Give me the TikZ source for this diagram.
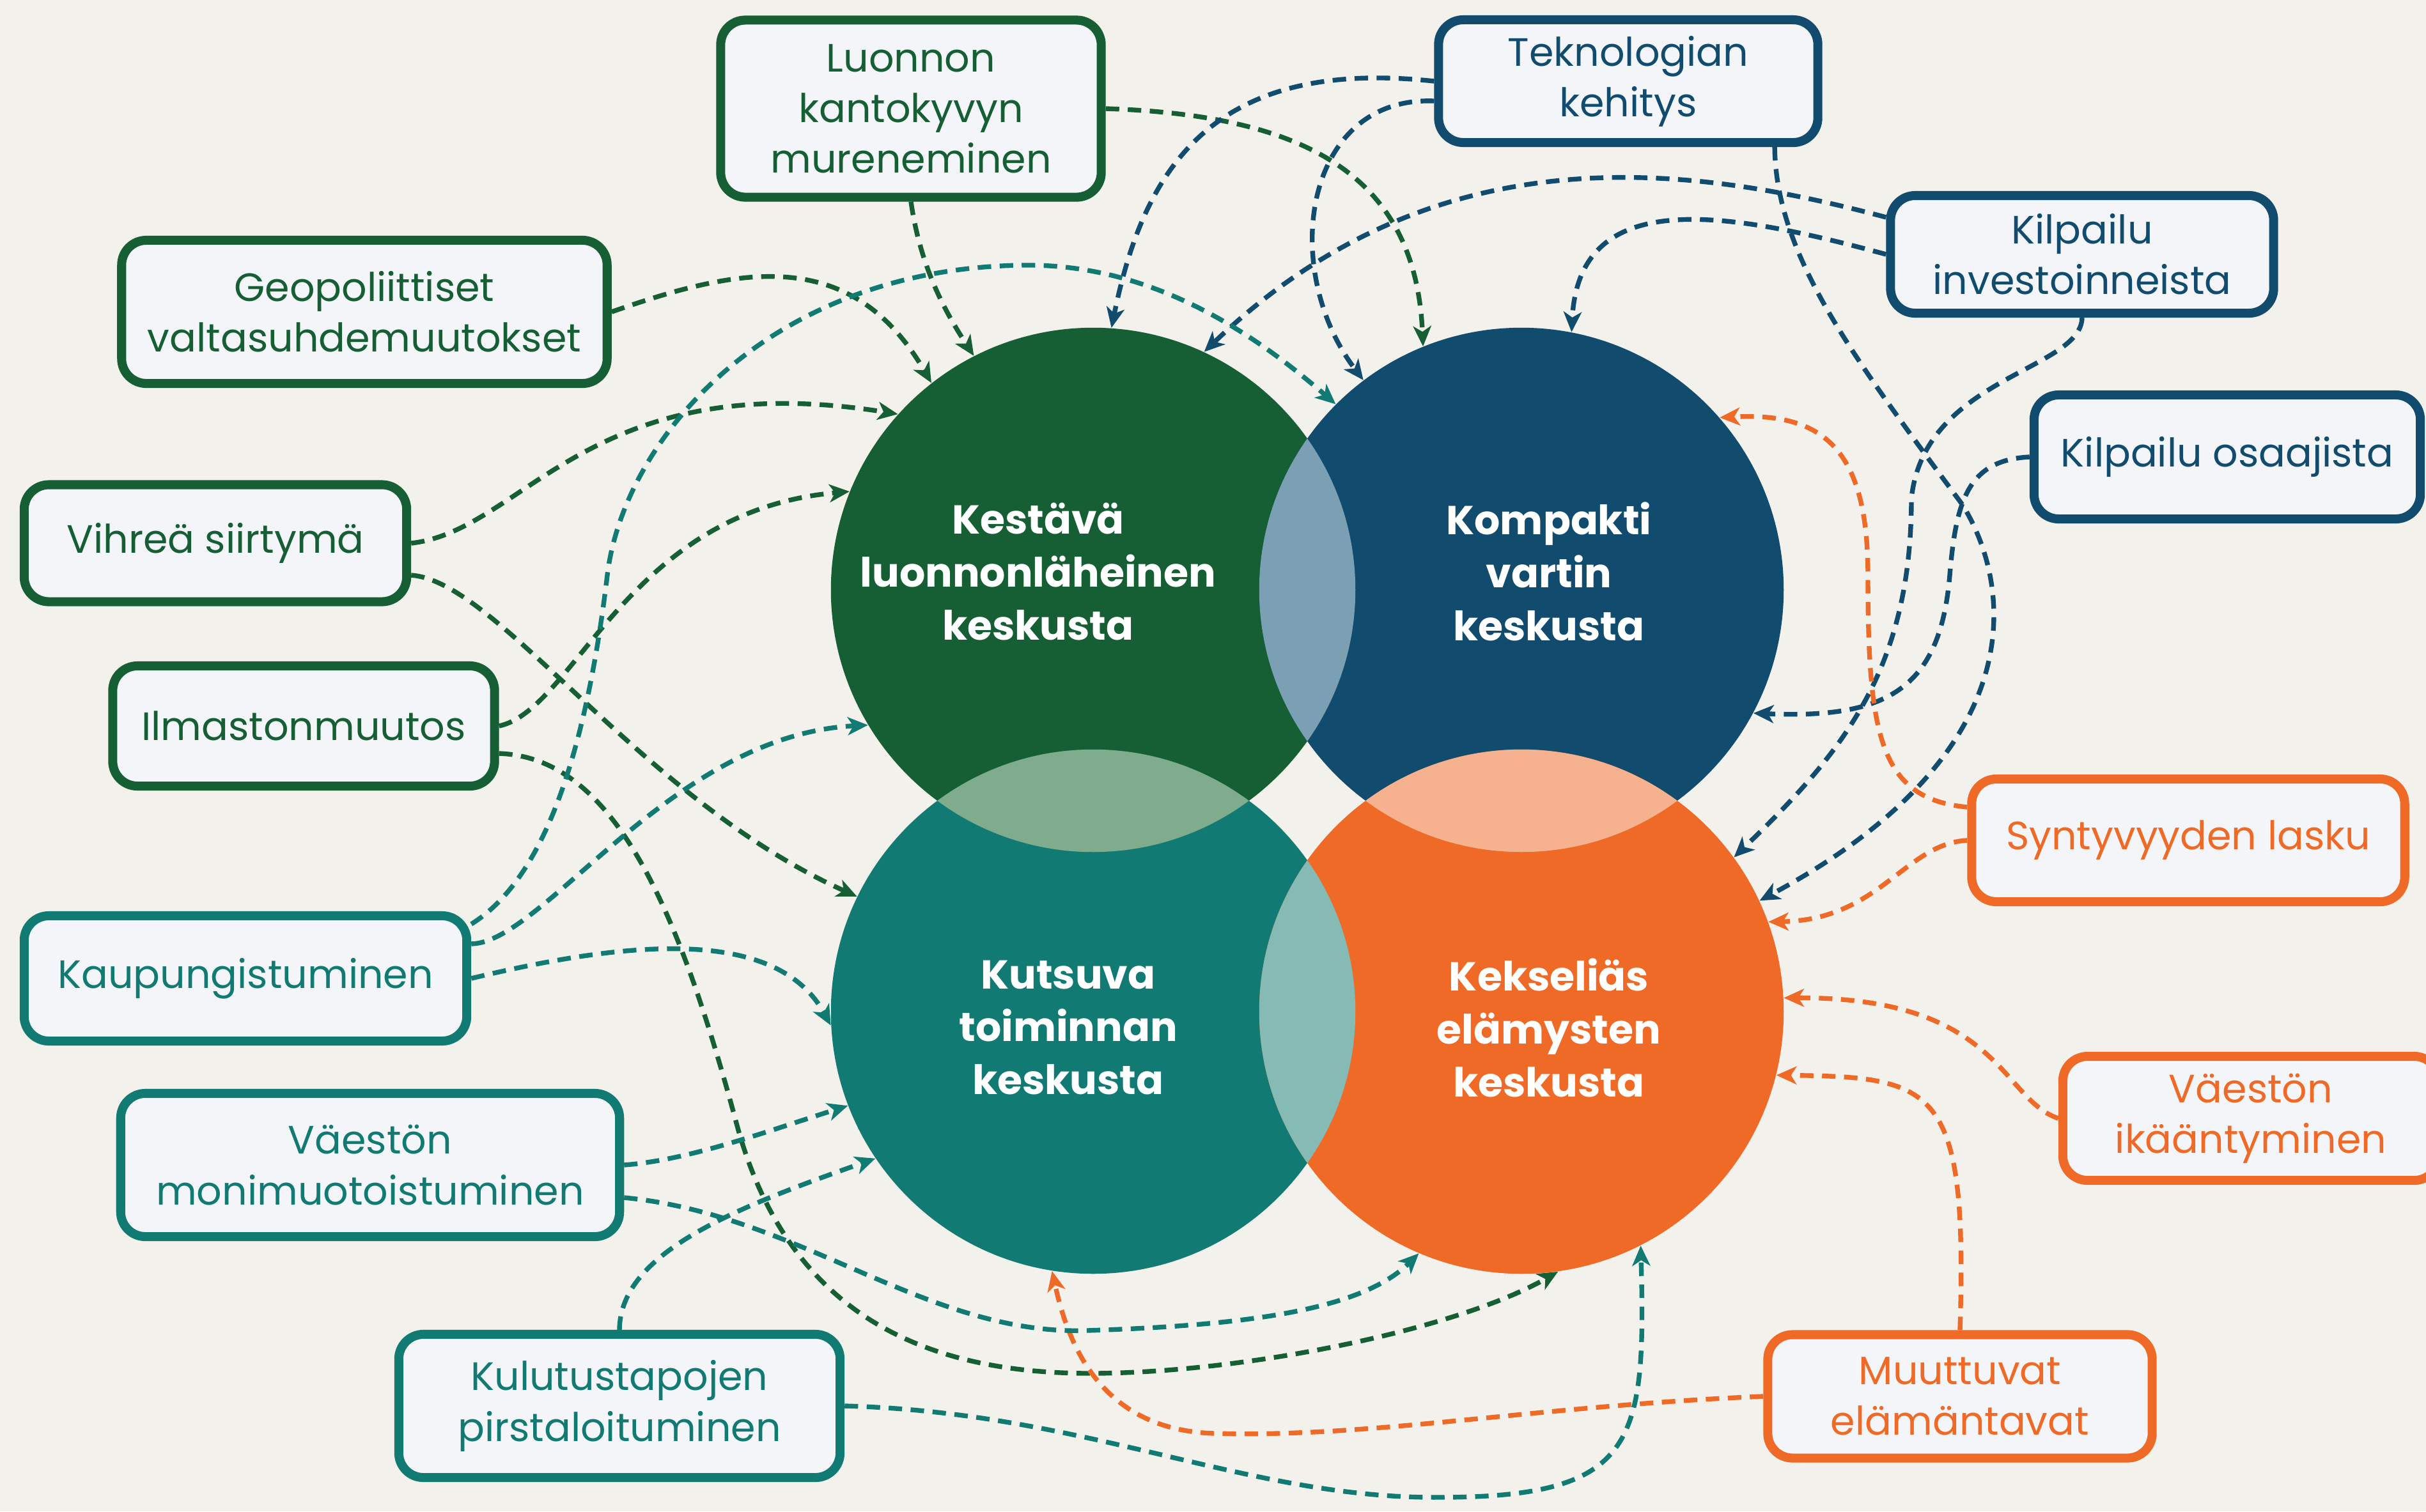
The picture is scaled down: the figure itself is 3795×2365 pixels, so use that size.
\documentclass[tikz,border=0pt]{standalone}
\usepackage{fontspec}
\setmainfont{Poppins}
\usetikzlibrary{arrows.meta}
\definecolor{bgc}{HTML}{F2F1EC}
\definecolor{boxfill}{HTML}{F3F5F8}
\definecolor{cgreen}{HTML}{165E33}
\definecolor{cblue}{HTML}{114B6E}
\definecolor{cteal}{HTML}{117A73}
\definecolor{corange}{HTML}{EF6A26}
\definecolor{lensGB}{HTML}{7BA0B4}
\definecolor{lensGT}{HTML}{7FAC8C}
\definecolor{lensBO}{HTML}{F6B18F}
\definecolor{lensTO}{HTML}{86BAB5}
\begin{document}
\begin{tikzpicture}[x=0.01cm,y=-0.01cm,
  box/.style={draw, line width=4pt, rounded corners=11pt, fill=boxfill, inner sep=0pt, align=center,
    font=\fontsize{17.6}{22.5}\selectfont},
  gbox/.style={box, draw=cgreen, text=cgreen},
  bbox/.style={box, draw=cblue, text=cblue},
  tbox/.style={box, draw=cteal, text=cteal},
  obox/.style={box, draw=corange, text=corange},
  bigc/.style={circle, minimum size=8.2cm, inner sep=0pt},
  ctext/.style={text=white, align=center, font=\bfseries\fontsize{18}{23.6}\selectfont},
  conn/.style={line width=2.1pt, dash pattern=on 6pt off 3.8pt, -{Stealth[length=9pt,width=8pt,inset=2.5pt]}},
  gline/.style={conn, draw=cgreen},
  bline/.style={conn, draw=cblue},
  tline/.style={conn, draw=cteal},
  oline/.style={conn, draw=corange}]
\fill[bgc, use as bounding box] (0,0) rectangle (3795,2365);

% circles
\node[bigc, fill=cgreen] (cg) at (1710,923) {};
\node[bigc, fill=cblue] (cb) at (2380,923) {};
\node[bigc, fill=cteal] (ct) at (1710,1583) {};
\node[bigc, fill=corange] (co) at (2380,1583) {};
\begin{scope}
  \clip (cg.center) circle[radius=4.1cm];
  \fill[lensGB] (cb.center) circle[radius=4.1cm];
  \fill[lensGT] (ct.center) circle[radius=4.1cm];
\end{scope}
\begin{scope}
  \clip (co.center) circle[radius=4.1cm];
  \fill[lensBO] (cb.center) circle[radius=4.1cm];
  \fill[lensTO] (ct.center) circle[radius=4.1cm];
\end{scope}
\node[ctext] (tg) at (1624,894) {Kestävä\\luonnonläheinen\\keskusta};
\node[ctext] (tb) at (2423,894) {Kompakti\\vartin\\keskusta};
\node[ctext] (tt) at (1671,1608) {Kutsuva\\toiminnan\\keskusta};
\node[ctext] (to) at (2423,1608) {Kekseliäs\\elämysten\\keskusta};

% boxes
\node[gbox, minimum width=5.95cm, minimum height=2.77cm] (luo) at (1425,170) {Luonnon\\kantokyvyn\\mureneminen};
\node[bbox, minimum width=5.93cm, minimum height=1.92cm] (tek) at (2547,127) {Teknologian\\kehitys};
\node[gbox, minimum width=7.59cm, minimum height=2.24cm] (geo) at (570,488) {Geopoliittiset\\valtasuhdemuutokset};
\node[gbox, minimum width=5.98cm, minimum height=1.83cm] (vih) at (337,850) {Vihreä siirtymä};
\node[gbox, minimum width=5.97cm, minimum height=1.88cm] (ilm) at (475,1136) {Ilmastonmuutos};
\node[tbox, minimum width=6.92cm, minimum height=1.96cm] (kau) at (384,1531) {Kaupungistuminen};
\node[tbox, minimum width=7.80cm, minimum height=2.24cm] (vmo) at (579,1823) {Väestön\\monimuotoistuminen};
\node[tbox, minimum width=6.90cm, minimum height=2.24cm] (kul) at (969,2200) {Kulutustapojen\\pirstaloituminen};
\node[bbox, minimum width=5.99cm, minimum height=1.84cm] (kin) at (3257,398) {Kilpailu\\investoinneista};
\node[bbox, minimum width=6.04cm, minimum height=1.94cm] (kos) at (3484,715) {Kilpailu osaajista};
\node[obox, minimum width=6.77cm, minimum height=1.92cm] (syn) at (3423,1315) {Syntyvyyden lasku};
\node[obox, minimum width=5.88cm, minimum height=1.94cm] (ika) at (3521,1750) {Väestön\\ikääntyminen};
\node[obox, minimum width=6.01cm, minimum height=1.93cm] (mut) at (3066,2185) {Muuttuvat\\elämäntavat};

% green connectors
\draw[gline] (luo.south) .. controls (1440,420) and (1480,490) .. (cg.117);
\draw[gline] (luo.east) .. controls (2050,180) and (2215,280) .. (cb.112);
\draw[gline] (geo.east) .. controls (1150,420) and (1330,380) .. (cg.128);
\draw[gline] (vih.east) .. controls (820,830) and (920,570) .. (cg.138);
\draw[gline] ([yshift=-0.5cm]vih.east) .. controls (780,910) and (1000,1250) .. (ct.154);
\draw[gline] (ilm.east) .. controls (900,1110) and (980,800) .. (cg.158);
\draw[gline] ([yshift=-0.43cm]ilm.east) .. controls (960,1185) and (1060,1420) .. (1150,1750)
   .. controls (1230,2060) and (1450,2150) .. (1710,2149)
   .. controls (1950,2148) and (2280,2080) .. (co.-82);

% blue connectors
\draw[bline] (tek.west) .. controls (1900,90) and (1790,260) .. (cg.86);
\draw[bline] ([yshift=-0.31cm]tek.west) .. controls (2040,150) and (2000,420) .. (cb.127);
\draw[bline] ([xshift=2.29cm]tek.south) .. controls (2778,400) and (2900,560) .. (3070,790)
   .. controls (3150,920) and (3180,1180) .. (co.25);
\draw[bline] ([yshift=0.58cm]kin.west) .. controls (2650,260) and (2250,200) .. (cg.65);
\draw[bline] (kin.west) .. controls (2700,330) and (2470,290) .. (cb.79);
\draw[bline] (kin.south) .. controls (3255,580) and (3010,590) .. (2990,780)
   .. controls (2990,1050) and (2880,1180) .. (co.36);
\draw[bline] (kos.west) .. controls (3080,720) and (3060,780) .. (3050,900)
   .. controls (3035,1080) and (2950,1125) .. (cb.-28);

% orange connectors
\draw[oline] ([yshift=0.52cm]syn.west) .. controls (2940,1250) and (2922,1150) .. (2922,900)
   .. controls (2922,700) and (2850,645) .. (cb.41);
\draw[oline] (syn.west) .. controls (2980,1320) and (2940,1440) .. (co.20);
\draw[oline] (ika.west) .. controls (3130,1720) and (3130,1560) .. (co.3);
\draw[oline] (mut.north) .. controls (3078,1700) and (3030,1685) .. (co.-14);
\draw[oline] (mut.west) .. controls (2400,2200) and (2150,2250) .. (1900,2243)
   .. controls (1720,2238) and (1670,2100) .. (ct.-99);

% teal connectors
\draw[tline] ([yshift=0.85cm]kau.east) .. controls (860,1370) and (920,1150) .. (950,900)
   .. controls (975,690) and (1200,420) .. (1600,415)
   .. controls (1800,412) and (1960,520) .. (cb.135);
\draw[tline] ([yshift=0.54cm]kau.east) .. controls (850,1475) and (1050,1150) .. (cg.211);
\draw[tline] (kau.east) .. controls (950,1480) and (1210,1440) .. (ct.183);
\draw[tline] (vmo.east) .. controls (1080,1815) and (1200,1770) .. (ct.201);
\draw[tline] ([yshift=-0.51cm]vmo.east) .. controls (1250,1900) and (1450,2090) .. (1700,2082)
   .. controls (1950,2074) and (2130,2050) .. (co.-113);
\draw[tline] (kul.north) .. controls (970,1960) and (1150,1890) .. (ct.214);
\draw[tline] (kul.east) .. controls (1700,2210) and (1950,2345) .. (2250,2343)
   .. controls (2560,2343) and (2575,2260) .. (co.-63);
\end{tikzpicture}
\end{document}
